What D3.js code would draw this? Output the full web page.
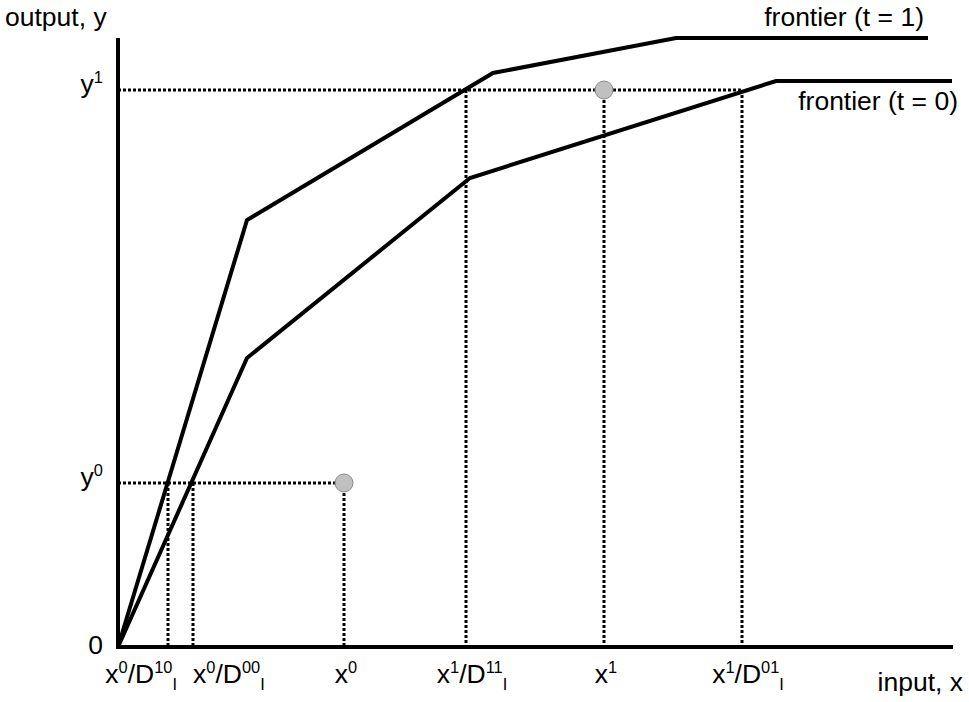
<!DOCTYPE html>
<html>
<head>
<meta charset="utf-8">
<script src="https://cdn.jsdelivr.net/npm/d3@7/dist/d3.min.js"></script>
<style>
  html, body { margin: 0; padding: 0; background: #fff; }
  svg { display: block; font-family: "Liberation Sans", Arial, sans-serif; }
</style>
</head>
<body>
<svg id="chart" width="969" height="702"></svg>
<script>
// ---- data (input / output units) ----
const frontierT1X = [0, 129, 375, 558, 810];
const frontierT1Y = [0, 427, 574, 609, 609];
const frontierT0X = [0, 129, 352, 658, 834];
const frontierT0Y = [0, 289, 469, 566, 566];
const obsX = [226, 486];          // x0, x1
const obsY = [164, 557];          // y0, y1
const xTickValues = [50, 75, 226, 348, 486, 624];
const xTickLabels = [
  [["x"], ["0", "sup"], ["/D"], ["10", "sup"], ["I", "sub"]],
  [["x"], ["0", "sup"], ["/D"], ["00", "sup"], ["I", "sub"]],
  [["x"], ["0", "sup"]],
  [["x"], ["1", "sup"], ["/D"], ["11", "sup"], ["I", "sub"]],
  [["x"], ["1", "sup"]],
  [["x"], ["1", "sup"], ["/D"], ["01", "sup"], ["I", "sub"]]
];
const yTickValues = [0, 164, 557];
const yTickLabels = [
  [["0"]],
  [["y"], ["0", "sup"]],
  [["y"], ["1", "sup"]]
];
const seriesNames = ["frontier (t = 1)", "frontier (t = 0)"];
const axisTitles = ["input, x", "output, y"];

// ---- layout ----
const svg = d3.select("#chart");
const x = d3.scaleLinear().domain([0, 835]).range([118, 953]);
const y = d3.scaleLinear().domain([0, 609]).range([647, 38]);
const FS = 26.5;

function richText(sel, parts, fs) {
  let cur = 0;
  parts.forEach(p => {
    const kind = p[1];
    let target = 0, size = fs;
    if (kind === "sup") { target = -0.36 * fs; size = fs * 0.62; }
    if (kind === "sub") { target = 0.28 * fs; size = fs * 0.62; }
    sel.append("tspan")
      .attr("dy", target - cur)
      .attr("font-size", size)
      .text(p[0]);
    cur = target;
  });
}

// dotted guide lines
const dotted = svg.append("g")
  .attr("stroke", "#000").attr("stroke-width", 3)
  .attr("stroke-dasharray", "3,2").attr("fill", "none");
// y1 horizontal to x1/D01
dotted.append("line")
  .attr("x1", x(0)).attr("x2", x(xTickValues[5]))
  .attr("y1", y(obsY[1])).attr("y2", y(obsY[1]));
// y0 horizontal to x0
dotted.append("line")
  .attr("x1", x(0)).attr("x2", x(obsX[0]))
  .attr("y1", y(obsY[0])).attr("y2", y(obsY[0]));
// verticals
[[xTickValues[0], obsY[0]], [xTickValues[1], obsY[0]], [xTickValues[2], obsY[0]],
 [xTickValues[3], obsY[1]], [xTickValues[4], obsY[1]], [xTickValues[5], obsY[1]]]
  .forEach(([xv, yv]) => {
    dotted.append("line")
      .attr("x1", x(xv)).attr("x2", x(xv))
      .attr("y1", y(yv)).attr("y2", y(0));
  });

// frontiers
const line = d3.line().x(d => x(d[0])).y(d => y(d[1]));
[[frontierT1X, frontierT1Y], [frontierT0X, frontierT0Y]].forEach(([xs, ys]) => {
  svg.append("path")
    .attr("d", line(xs.map((v, i) => [v, ys[i]])))
    .attr("fill", "none").attr("stroke", "#000")
    .attr("stroke-width", 4).attr("stroke-linejoin", "miter");
});

// axes
svg.append("path")
  .attr("d", `M${x(0)},${y(609)}V${y(0)}H${x(835)}`)
  .attr("fill", "none").attr("stroke", "#000").attr("stroke-width", 4);

// observation points
svg.selectAll("circle.obs").data(obsX).enter().append("circle")
  .attr("class", "obs")
  .attr("cx", d => x(d)).attr("cy", (d, i) => y(obsY[i]))
  .attr("r", 9).attr("fill", "#c0c0c0").attr("stroke", "#8a8a8a").attr("stroke-width", 1);

// x tick labels
xTickValues.forEach((v, i) => {
  let anchor = "middle", dx = 6;
  if (i === 0) { anchor = "end"; dx = 9; }
  if (i === 1) { anchor = "start"; dx = 0; }
  if (i === 2 || i === 4) dx = 2;
  const t = svg.append("text")
    .attr("x", x(v) + dx).attr("y", 683)
    .attr("text-anchor", anchor).attr("font-size", FS).attr("fill", "#000");
  richText(t, xTickLabels[i], FS);
});

// y tick labels
yTickValues.forEach((v, i) => {
  const t = svg.append("text")
    .attr("x", 103).attr("y", y(v) + (i === 0 ? 7 : 3))
    .attr("text-anchor", "end").attr("font-size", FS).attr("fill", "#000");
  richText(t, yTickLabels[i], FS);
});

// axis titles
svg.append("text").attr("x", 963).attr("y", 691).attr("text-anchor", "end")
  .attr("font-size", FS).text(axisTitles[0]);
svg.append("text").attr("x", 5).attr("y", 26).attr("text-anchor", "start")
  .attr("font-size", FS).text(axisTitles[1]);

// series labels
svg.append("text").attr("x", 924).attr("y", 26).attr("text-anchor", "end")
  .attr("font-size", FS).text(seriesNames[0]);
svg.append("text").attr("x", 958).attr("y", 110).attr("text-anchor", "end")
  .attr("font-size", FS).text(seriesNames[1]);
</script>
</body>
</html>
